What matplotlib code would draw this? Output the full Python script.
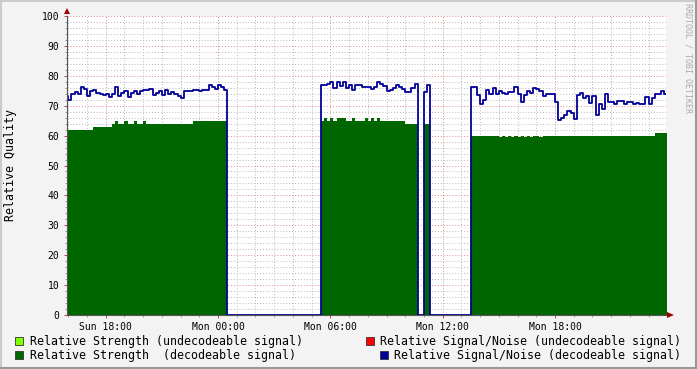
import numpy as np
import matplotlib.pyplot as plt
from matplotlib.patches import Rectangle, Polygon

# time axis: hours since Sun 00:00, one sample every 10 minutes
STEP_H = 10 / 60
GRID_START = 15 + 50 / 60
GRID_END = 48.0
WINDOW = (15.93, 47.93)

# start time (hours) of each stretch with data; everything else reads 0
seg_starts = [15 + 50 / 60, 29.5, 35.0, 37.5]

# Relative Strength (decodeable signal)
strength_1 = [62, 62, 62, 62, 62, 62, 62, 62, 62, 63, 63, 63, 63, 63, 63,
              64, 65, 64, 64, 65, 64, 64, 65, 64, 64, 65, 64, 64, 64, 64,
              64, 64, 64, 64, 64, 64, 64, 64, 64, 64, 64, 65, 65, 65, 65,
              65, 65, 65, 65, 65, 65, 65]
strength_2 = [65, 66, 65, 66, 65, 66, 66, 66, 65, 65, 66, 65, 65, 65, 66,
              65, 66, 65, 66, 65, 65, 65, 65, 65, 65, 65, 65, 64, 64, 64, 64]
strength_3 = [64, 64]
strength_4 = [60, 60, 60, 60, 60, 60, 60, 60, 60, 59.6, 60, 59.6, 60, 59.6,
              60, 59.6, 60, 59.6, 60, 59.6, 60, 60, 59.6, 60, 60, 60, 60, 60,
              60, 60, 60, 60, 60, 60, 60, 60, 60, 60, 60, 60, 60, 60, 60, 60,
              60, 60, 60, 60, 60, 60, 60, 60, 60, 60, 60, 60, 60, 60, 60, 61,
              61, 61, 61]

# Relative Signal/Noise (decodeable signal)
snr_1 = [73.2, 71.8, 74.0, 74.5, 73.8, 76.2, 75.5, 73.3, 75.0, 75.2, 74.1,
         74.0, 73.6, 73.8, 73.0, 74.0, 76.2, 73.3, 74.2, 75.0, 73.0, 74.2,
         75.0, 74.0, 74.8, 75.4, 75.4, 75.6, 73.6, 74.2, 74.8, 73.6, 75.4,
         73.8, 74.5, 74.0, 73.2, 72.5, 74.8, 75.0, 75.0, 75.2, 75.2, 75.0,
         75.2, 75.2, 76.9, 76.4, 75.6, 76.9, 76.2, 75.4]
snr_2 = [76.9, 76.9, 77.2, 78.0, 75.8, 78.0, 76.6, 77.8, 75.8, 76.9, 75.4,
         76.9, 76.9, 76.2, 76.1, 76.1, 75.6, 76.1, 78.0, 77.2, 76.6, 75.0,
         75.4, 75.8, 77.0, 76.3, 75.6, 74.6, 74.6, 75.8, 77.2]
snr_3 = [74.5, 76.8]
snr_4 = [76.2, 76.2, 73.6, 70.5, 72.0, 75.2, 74.0, 75.8, 74.0, 75.0, 74.1,
         74.0, 74.6, 74.6, 76.4, 74.0, 71.4, 73.6, 75.0, 74.1, 76.0, 75.6,
         75.0, 73.2, 73.8, 74.0, 74.0, 71.4, 65.2, 66.0, 67.0, 68.2, 67.7,
         65.5, 73.5, 74.4, 72.7, 73.2, 71.0, 73.2, 67.0, 70.5, 69.0, 73.8,
         71.3, 71.3, 70.5, 71.6, 71.6, 70.5, 71.2, 71.2, 70.5, 71.0, 70.5,
         70.5, 73.0, 70.5, 72.7, 73.8, 73.8, 74.9, 73.8]

tick_hours = [18, 24, 30, 36, 42]
tick_labels = ["Sun 18:00", "Mon 00:00", "Mon 06:00", "Mon 12:00", "Mon 18:00"]

legend_labels = ["Relative Strength (undecodeable signal)",
                 "Relative Strength  (decodeable signal)",
                 "Relative Signal/Noise (undecodeable signal)",
                 "Relative Signal/Noise (decodeable signal)"]
legend_colors = ["#80FF00", "#006600", "#FF0000", "#000099"]

W, H = 697, 369


def fig_xy(x, y):
    """pixel position (top-left origin) -> figure fraction"""
    return x / W, 1 - y / H


# build the full series, zero where nothing was recorded
t = np.arange(GRID_START, GRID_END + 1e-9, STEP_H)
strength = np.zeros(len(t))
snr = np.zeros(len(t))
for start, s_vals, n_vals in zip(seg_starts,
                                 [strength_1, strength_2, strength_3, strength_4],
                                 [snr_1, snr_2, snr_3, snr_4]):
    i0 = int(round((start - GRID_START) / STEP_H))
    strength[i0:i0 + len(s_vals)] = s_vals
    snr[i0:i0 + len(n_vals)] = n_vals

plt.rcParams["font.family"] = "DejaVu Sans Mono"

fig = plt.figure(figsize=(W / 100, H / 100), dpi=100)
fig.patch.set_facecolor("#F3F3F3")

left, top = fig_xy(67, 16)
right, bottom = fig_xy(666, 315)
ax = fig.add_axes([left, bottom, right - left, top - bottom])
ax.set_facecolor("white")

ax.fill_between(t, 0, strength, step="post", color="#006600", lw=0, zorder=1)
ax.step(t, snr, where="post", color="#000099", lw=1.3, zorder=3)

ax.set_xlim(*WINDOW)
ax.set_ylim(0, 100)

ax.set_xticks(tick_hours)
ax.set_xticklabels(tick_labels)
ax.set_xticks(np.arange(16, 48, 1), minor=True)
ax.set_yticks(np.arange(0, 101, 10))
ax.set_yticks(np.arange(0, 101, 2), minor=True)

# grid sits under the data
ax.set_axisbelow(True)
ax.grid(True, which="minor", color="#B8B8B8", linestyle=(0, (1, 2)), lw=0.7)
ax.grid(True, which="major", color="#E08888", linestyle=(0, (1, 2)), lw=0.7)

ax.tick_params(axis="both", which="major", labelsize=7, length=2.5,
               width=0.7, color="#C04040")
ax.tick_params(axis="x", which="major", pad=2.5)
ax.tick_params(axis="y", which="major", pad=3)
ax.tick_params(axis="both", which="minor", length=1.5, width=0.7,
               color="#999999")

for side in ["top", "right"]:
    ax.spines[side].set_visible(False)
for side in ["left", "bottom"]:
    ax.spines[side].set_color("#555555")
    ax.spines[side].set_linewidth(0.8)
    ax.spines[side].set_zorder(4)

fig.text(*fig_xy(11, 165), "Relative Quality", rotation=90, fontsize=8.4,
         ha="center", va="center")

# axis arrows
arrow_red = "#A00000"
fig.add_artist(Polygon([fig_xy(64, 14), fig_xy(70, 14), fig_xy(67, 8)],
                       closed=True, transform=fig.transFigure,
                       color=arrow_red, lw=0))
fig.add_artist(Polygon([fig_xy(667, 312), fig_xy(667, 318), fig_xy(674, 315)],
                       closed=True, transform=fig.transFigure,
                       color=arrow_red, lw=0))

# watermark
fig.text(*fig_xy(688, 58), "RRDTOOL / TOBI OETIKER", rotation=270,
         fontsize=6, color="#AAAAAA", ha="center", va="center")

# legend
legend_pos = [(15, 341, 30), (15, 355, 30), (366, 341, 380), (380, 355, 394)]
for (sx, sy, tx), label, col in zip(legend_pos, legend_labels, legend_colors):
    x0, y0 = fig_xy(sx, sy + 4)
    fig.add_artist(Rectangle((x0, y0), 8 / W, 8 / H, transform=fig.transFigure,
                             facecolor=col, edgecolor="#333333", lw=0.6))
    fig.text(*fig_xy(tx, sy), label, fontsize=8.4, ha="left", va="center")

# shaded frame around the canvas
fig.add_artist(plt.Line2D([0, 1], [1 - 1 / H] * 2, transform=fig.transFigure,
                          color="#CBCBCB", lw=1.5))
fig.add_artist(plt.Line2D([1 / W] * 2, [0, 1], transform=fig.transFigure,
                          color="#CBCBCB", lw=1.5))
fig.add_artist(plt.Line2D([0, 1], [1 / H] * 2, transform=fig.transFigure,
                          color="#999999", lw=1.5))
fig.add_artist(plt.Line2D([1 - 1 / W] * 2, [0, 1], transform=fig.transFigure,
                          color="#999999", lw=1.5))

fig.savefig("out.png", dpi=100, facecolor=fig.get_facecolor())
